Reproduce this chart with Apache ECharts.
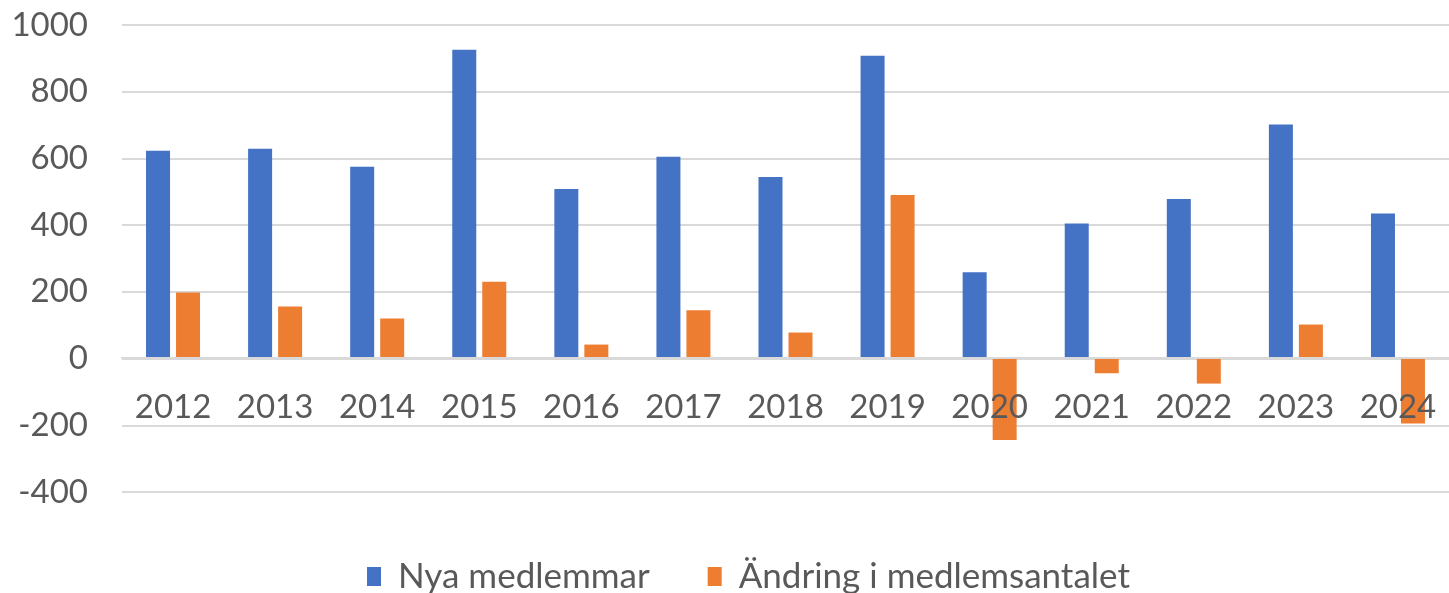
<!DOCTYPE html>
<html>
<head>
<meta charset="utf-8">
<script src="https://cdn.jsdelivr.net/npm/echarts@6/dist/echarts.min.js"></script>
<style>
	html, body { margin: 0; padding: 0; background: #fff; }
	#chart { width: 1449px; height: 593px; }
</style>
</head>
<body>
<div id="chart"></div>
<script>
var years = [ '2012', '2013', '2014', '2015', '2016', '2017', '2018', '2019', '2020', '2021', '2022', '2023', '2024' ];
var nyaMedlemmar = [ 623, 629, 575, 926, 508, 605, 544, 908, 259, 405, 478, 702, 435 ];
var andring = [ 198, 156, 120, 230, 42, 145, 78, 490, -244, -44, -75, 102, -195 ];
var yTicks = { min : -400, max : 1000, interval : 200 };

var fontFamily = 'Lato, "Open Sans", sans-serif';
var textColor = '#595959';
var lineColor = '#d9d9d9';

var chart = echarts.init(document.getElementById('chart'));
var option = {
	animation : false,
	grid : {
		left : 122,
		right : 0,
		top : 25,
		bottom : 101
	},
	legend : {
		top : 554,
		left : 362,
		itemWidth : 14,
		itemHeight : 19,
		itemGap : 58,
		icon : 'rect',
		textStyle : {
			color : textColor,
			fontSize : 35,
			fontFamily : fontFamily,
			padding : [ 0, 0, 0, 12 ]
		},
		data : [ 'Nya medlemmar', 'Ändring i medlemsantalet' ]
	},
	xAxis : {
		type : 'category',
		data : years,
		z : 5,
		// the category axis sits on the zero line
		offset : -134,
		axisLine : {
			onZero : false,
			lineStyle : {
				color : lineColor,
				width : 2
			}
		},
		axisTick : {
			show : false
		},
		axisLabel : {
			color : textColor,
			fontSize : 33,
			fontFamily : fontFamily,
			margin : 33
		}
	},
	yAxis : {
		type : 'value',
		min : yTicks.min,
		max : yTicks.max,
		interval : yTicks.interval,
		axisLine : {
			show : false
		},
		axisTick : {
			show : false
		},
		splitLine : {
			lineStyle : {
				color : lineColor,
				width : 2
			}
		},
		axisLabel : {
			color : textColor,
			fontSize : 33,
			fontFamily : fontFamily,
			margin : 34,
			formatter : function(value) {
				return String(value);
			}
		}
	},
	series : [ {
		name : 'Nya medlemmar',
		type : 'bar',
		barWidth : 24,
		barGap : '25%',
		itemStyle : {
			color : '#4472C4'
		},
		data : nyaMedlemmar
	}, {
		name : 'Ändring i medlemsantalet',
		type : 'bar',
		barWidth : 24,
		barGap : '25%',
		itemStyle : {
			color : '#ED7D31'
		},
		data : andring
	} ]
};
chart.setOption(option);
</script>
</body>
</html>
